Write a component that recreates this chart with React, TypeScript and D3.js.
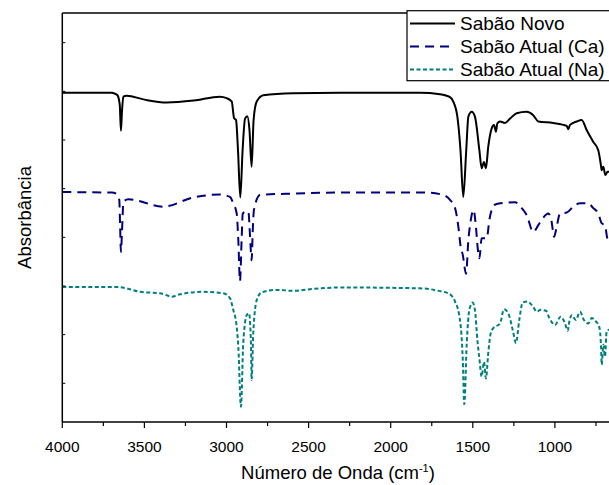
import React from 'react';
import * as d3 from 'd3';

// wavenumber (cm-1), absorbance (offset, arbitrary units)
const sabaoNovo: [number, number][] = [
  [4000, 6.97], [3700, 6.97], [3679, 6.95], [3664, 6.92], [3650, 6.72], [3643, 6.19], [3636, 6.62],
  [3628, 6.89], [3608, 6.91], [3500, 6.83], [3364, 6.77], [3200, 6.81], [3040, 6.89], [2999, 6.86],
  [2968, 6.79], [2954, 6.45], [2942, 6.41], [2930, 5.79], [2916, 4.82], [2902, 5.79], [2887, 6.44],
  [2873, 6.49], [2860, 6.2], [2847, 5.45], [2835, 6.41], [2816, 6.79], [2776, 6.92], [2595, 6.96],
  [2309, 6.97], [1822, 6.97], [1700, 6.94], [1639, 6.88], [1619, 6.79], [1594, 6.48], [1575, 5.79],
  [1558, 4.83], [1540, 5.79], [1527, 6.48], [1507, 6.58], [1487, 6.48], [1460, 5.79], [1446, 5.42],
  [1432, 5.55], [1420, 5.42], [1406, 5.86], [1385, 6.24], [1371, 6.31], [1359, 6.17], [1351, 6.34],
  [1334, 6.38], [1304, 6.35], [1273, 6.44], [1233, 6.55], [1172, 6.58], [1132, 6.51], [1101, 6.38],
  [1010, 6.35], [928, 6.29], [918, 6.22], [908, 6.31], [867, 6.38], [837, 6.41], [806, 6.2],
  [766, 5.96], [736, 5.79], [720, 5.49], [715, 5.38], [705, 5.45], [693, 5.28], [679, 5.35], [650, 5.34],
];

const sabaoCa: [number, number][] = [
  [4000, 4.93], [3700, 4.92], [3669, 4.89], [3653, 4.77], [3648, 4.25], [3643, 3.7], [3636, 4.15],
  [3628, 4.73], [3598, 4.78], [3385, 4.63], [3202, 4.82], [3040, 4.88], [2979, 4.83], [2959, 4.7],
  [2938, 4.49], [2928, 3.94], [2918, 3.1], [2908, 3.94], [2901, 4.49], [2881, 4.53], [2867, 4.53],
  [2857, 4.05], [2847, 3.53], [2840, 4.15], [2833, 4.56], [2796, 4.87], [2593, 4.9], [2309, 4.92],
  [1781, 4.92], [1680, 4.87], [1639, 4.77], [1608, 4.6], [1588, 4.22], [1574, 3.81], [1561, 3.64],
  [1541, 3.25], [1527, 3.94], [1512, 4.36], [1496, 4.56], [1481, 4.22], [1471, 3.81], [1460, 3.57],
  [1446, 3.98], [1415, 3.98], [1399, 4.36], [1371, 4.66], [1334, 4.7], [1243, 4.72], [1202, 4.6],
  [1172, 4.46], [1132, 4.11], [1101, 4.25], [1080, 4.36], [1040, 4.49], [1020, 4.32], [1005, 4.01],
  [989, 4.22], [969, 4.49], [928, 4.51], [888, 4.63], [847, 4.7], [797, 4.7], [766, 4.6],
  [736, 4.49], [715, 4.29], [695, 4.25], [681, 3.98], [671, 3.91], [650, 3.88],
];

const sabaoNa: [number, number][] = [
  [4000, 2.98], [3669, 2.98], [3608, 2.95], [3527, 2.88], [3405, 2.85], [3364, 2.81], [3334, 2.78],
  [3283, 2.83], [3141, 2.88], [3019, 2.85], [2979, 2.75], [2959, 2.51], [2938, 2.16], [2928, 1.75],
  [2912, 0.52], [2898, 1.82], [2877, 2.4], [2863, 2.44], [2851, 1.82], [2847, 1.07], [2837, 2.03],
  [2816, 2.71], [2786, 2.87], [2694, 2.92], [2593, 2.9], [2471, 2.94], [2309, 2.97], [1801, 2.95],
  [1710, 2.9], [1649, 2.85], [1608, 2.68], [1578, 2.3], [1561, 1.48], [1552, 0.57], [1537, 1.82],
  [1521, 2.51], [1501, 2.66], [1487, 2.51], [1471, 1.85], [1460, 1.51], [1446, 1.14], [1432, 1.44],
  [1420, 1.1], [1406, 1.62], [1391, 2.03], [1376, 2.13], [1334, 2.23], [1310, 2.52], [1284, 2.44],
  [1257, 2.1], [1237, 1.83], [1217, 2.3], [1196, 2.66], [1168, 2.68], [1132, 2.57], [1111, 2.47],
  [1086, 2.51], [1054, 2.49], [1034, 2.34], [999, 2.2], [965, 2.37], [938, 2.23], [922, 2.08],
  [912, 2.27], [898, 2.4], [872, 2.3], [847, 2.47], [823, 2.3], [797, 2.23], [776, 2.34],
  [750, 2.27], [730, 2.16], [719, 1.75], [715, 1.38], [705, 1.79], [695, 1.55], [685, 2.06],
  [671, 2.1], [650, 2.1],
];

const seriesNames = ['Sabão Novo', 'Sabão Atual (Ca)', 'Sabão Atual (Na)'];
const xMajorTicks = [4000, 3500, 3000, 2500, 2000, 1500, 1000];
const xMinorTicks = [3750, 3250, 2750, 2250, 1750, 1250, 750];
const yTicks = [1, 2, 3, 4, 5, 6, 7, 8];

const FONT = 'Liberation Sans, Arial, sans-serif';

export default function App() {
  const W = 609;
  const H = 485;
  const left = 62.3;
  const top = 13;
  const bottom = 422;

  const x = d3.scaleLinear().domain([4000, 600]).range([left, left + 3400 * 0.1642]);
  const y = d3.scaleLinear().domain([0.205, 8.61]).range([bottom, top]);

  const line = d3.line<[number, number]>()
    .x(d => x(d[0]))
    .y(d => y(d[1]))
    .curve(d3.curveMonotoneX);

  const styles = [
    { data: sabaoNovo, color: '#000000', dash: undefined },
    { data: sabaoCa, color: '#00007f', dash: '9,6' },
    { data: sabaoNa, color: '#007f7f', dash: '4,2.5' },
  ];

  const legendRows = [30, 53, 76];

  return (
    <svg width={W} height={H} style={{ position: 'absolute', left: 0, top: 0, background: '#fff' }}>
      <rect width={W} height={H} fill="#fff" />

      {/* spectra */}
      {styles.map((s, i) => (
        <path key={i} d={line(s.data) || ''} fill="none" stroke={s.color} strokeWidth={2}
          strokeDasharray={s.dash} strokeLinejoin="round" />
      ))}

      {/* frame */}
      <line x1={left} x2={W + 5} y1={top} y2={top} stroke="#000" strokeWidth={1.5} />
      <line x1={left} x2={left} y1={top} y2={bottom} stroke="#000" strokeWidth={1.5} />
      <line x1={left} x2={W + 5} y1={bottom} y2={bottom} stroke="#000" strokeWidth={1.5} />

      {/* y ticks (inside) */}
      {yTicks.map(t => (
        <line key={t} x1={left} x2={left + 3} y1={y(t)} y2={y(t)} stroke="#000" strokeWidth={1} />
      ))}

      {/* x ticks */}
      {xMajorTicks.map(t => (
        <g key={t}>
          <line x1={x(t)} x2={x(t)} y1={bottom} y2={bottom + 6} stroke="#000" strokeWidth={1.2} />
          <text x={x(t)} y={452} textAnchor="middle" fontFamily={FONT} fontSize={15.5}>{t}</text>
        </g>
      ))}
      {xMinorTicks.map(t => (
        <line key={t} x1={x(t)} x2={x(t)} y1={bottom} y2={bottom + 4} stroke="#000" strokeWidth={1.2} />
      ))}

      {/* axis titles */}
      <text x={338} y={479} textAnchor="middle" fontFamily={FONT} fontSize={18.5}>
        Número de Onda (cm<tspan dy={-7} fontSize={11}>-1</tspan><tspan dy={7}>)</tspan>
      </text>
      <text transform={`translate(31,${(top + bottom) / 2}) rotate(-90)`} textAnchor="middle"
        fontFamily={FONT} fontSize={18.5}>Absorbância</text>

      {/* legend */}
      <rect x={407} y={10.7} width={W} height={70} fill="#fff" stroke="#000" strokeWidth={1.2} />
      {seriesNames.map((n, i) => (
        <g key={n}>
          <line x1={410} x2={455} y1={legendRows[i] - 6.5} y2={legendRows[i] - 6.5}
            stroke={styles[i].color} strokeWidth={2} strokeDasharray={styles[i].dash} />
          <text x={460} y={legendRows[i]} fontFamily={FONT} fontSize={19}>{n}</text>
        </g>
      ))}
    </svg>
  );
}
